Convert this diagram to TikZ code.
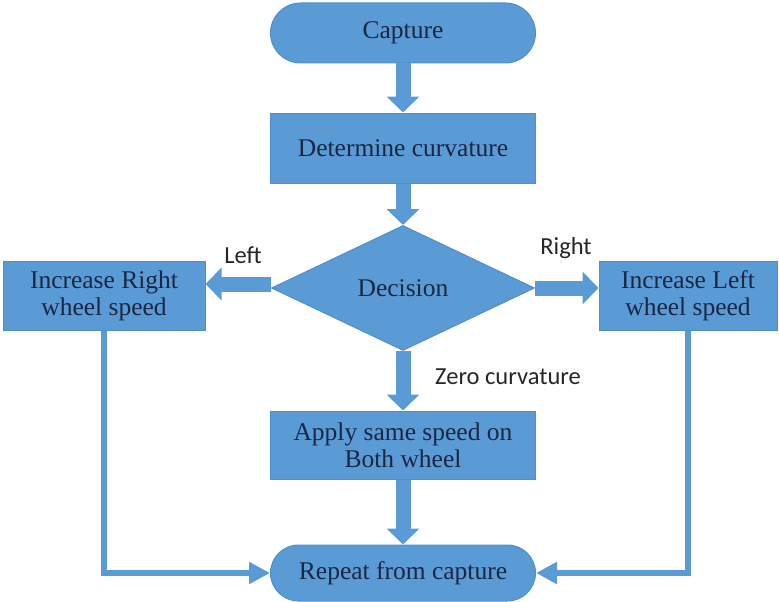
\documentclass[tikz,border=0pt]{standalone}
\usepackage{fontspec}
\setmainfont{Liberation Serif}
\newfontfamily\labelfont{Carlito}
\usetikzlibrary{arrows.meta,shapes.misc,shapes.geometric}
\definecolor{boxblue}{HTML}{5B9BD5}
\definecolor{boxedge}{HTML}{4F8FCB}
\definecolor{txtnavy}{HTML}{1A2744}
\definecolor{lbl}{HTML}{262626}
\tikzset{
  base/.style={fill=boxblue, draw=boxedge, line width=1pt, text=txtnavy,
    font=\fontsize{25.5}{27}\selectfont, align=center, inner sep=0pt},
  stadium/.style={base, rounded rectangle, minimum width=265pt, minimum height=60pt},
  procbox/.style={base, rectangle, minimum width=265pt, minimum height=70pt},
  sidebox/.style={base, rectangle, minimum height=69pt},
  decide/.style={base, diamond, minimum width=263pt, minimum height=125pt},
  blockarrow/.style={draw=boxblue, line width=15pt, -{Triangle[width=32pt,length=16pt]}},
  thinarrow/.style={draw=boxblue, line width=6pt, -{Triangle[width=21pt,length=21pt]}},
  branch/.style={text=lbl, font=\labelfont\fontsize{24.5}{26}\selectfont, inner sep=0pt}
}
\begin{document}
\begin{tikzpicture}[x=1pt,y=-1pt]
\useasboundingbox (0,0) rectangle (779,602);
\node[stadium] (cap) at (403,33) {Capture};
\node[procbox] (det) at (403,148) {Determine curvature};
\node[decide] (dec) at (403,288) {Decision};
\node[sidebox, minimum width=202pt] (lbox) at (104,295.5) {Increase Right\\wheel speed};
\node[sidebox, minimum width=178pt] (rbox) at (688,296) {Increase Left\\wheel speed};
\node[procbox, minimum height=68pt] (app) at (403,445) {Apply same speed on\\Both wheel};
\node[stadium, minimum height=56pt] (rep) at (403,573) {Repeat from capture};
\node[branch] (lleft) at (243,255) {Left};
\node[branch] (lright) at (566,248) {Right};
\node[branch] (lzero) at (508,377) {Zero curvature};
\coordinate (lin) at ([yshift=4pt]dec.west);
\coordinate (rin) at (dec.east);
\draw[blockarrow] (cap.south) -- (det.north);
\draw[blockarrow] (det.south) -- (dec.north);
\draw[blockarrow] (lin) -- (lin -| lbox.east);
\draw[blockarrow] (rin) -- (rin -| rbox.west);
\draw[blockarrow] (dec.south) -- (app.north);
\draw[blockarrow] (app.south) -- (rep.north);
\draw[thinarrow] (lbox.south) |- (rep.west);
\draw[thinarrow] (rbox.south) |- (rep.east);
\end{tikzpicture}
\end{document}
